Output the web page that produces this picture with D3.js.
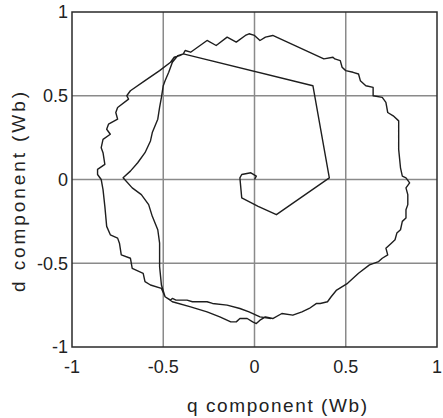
<!DOCTYPE html>
<html>
<head>
<meta charset="utf-8">
<script src="https://cdn.jsdelivr.net/npm/d3@7"></script>
<style>
  html, body { margin: 0; padding: 0; background: #fff; }
  svg { display: block; }
  text { font-family: "Liberation Sans", Arial, Helvetica, sans-serif; fill: #222; }
</style>
</head>
<body>
<svg id="chart" width="443" height="418"></svg>
<script>
// ---- data ----
const xTicks = [-1, -0.5, 0, 0.5, 1];
const yTicks = [-1, -0.5, 0, 0.5, 1];
const xTickLabels = ["-1", "-0.5", "0", "0.5", "1"];
const yTickLabels = ["-1", "-0.5", "0", "0.5", "1"];
const gridValues = [-0.5, 0, 0.5];
const xLabel = "q component (Wb)";
const yLabel = "d component (Wb)";

// start-up trace from the origin
const startQ = [0.00, 0.01, -0.02, -0.07, -0.08, -0.07, 0.02, 0.12, 0.41, 0.32, -0.39];
const startD = [0.00, 0.02, 0.04, 0.03, 0.01, -0.11, -0.16, -0.21, 0.01, 0.56, 0.75];
// inner curve with cusp
const innerQ = [-0.42, -0.45, -0.47, -0.49, -0.50, -0.51, -0.52, -0.53, -0.56, -0.57, -0.60, -0.64, -0.68, -0.72, -0.67, -0.62, -0.58, -0.56, -0.53, -0.52, -0.52, -0.51, -0.49];
const innerD = [0.74, 0.70, 0.64, 0.59, 0.56, 0.49, 0.43, 0.36, 0.28, 0.23, 0.16, 0.10, 0.05, 0.01, -0.05, -0.09, -0.15, -0.22, -0.30, -0.38, -0.52, -0.63, -0.70];
// lower bottom branch
const lowerQ = [-0.45, -0.35, -0.26, -0.19, -0.13, -0.10, -0.08, -0.04, -0.01, 0.01, 0.03];
const lowerD = [-0.73, -0.76, -0.79, -0.82, -0.85, -0.85, -0.83, -0.83, -0.85, -0.86, -0.84];
// right side and top of the circle
const rightQ = [0.06, 0.10, 0.15, 0.21, 0.26, 0.30, 0.34, 0.36, 0.40, 0.42, 0.45, 0.51, 0.57, 0.63, 0.68, 0.70, 0.73, 0.72, 0.75, 0.77, 0.78, 0.80, 0.81, 0.83, 0.83, 0.84, 0.84, 0.83, 0.85, 0.83, 0.81, 0.80, 0.79, 0.79, 0.76, 0.73, 0.72, 0.70, 0.65, 0.65, 0.61, 0.58, 0.57, 0.54, 0.50, 0.48, 0.47, 0.44, 0.43, 0.38, 0.10, 0.06, 0.03, 0.00, -0.03, -0.05, -0.10, -0.15, -0.21, -0.26, -0.35, -0.38, -0.39];
const rightD = [-0.82, -0.83, -0.80, -0.81, -0.79, -0.77, -0.74, -0.74, -0.73, -0.70, -0.66, -0.62, -0.56, -0.51, -0.49, -0.47, -0.45, -0.41, -0.38, -0.36, -0.32, -0.30, -0.25, -0.23, -0.18, -0.15, -0.09, -0.05, -0.02, 0.01, 0.02, 0.07, 0.18, 0.35, 0.38, 0.40, 0.46, 0.49, 0.50, 0.55, 0.56, 0.59, 0.63, 0.64, 0.65, 0.67, 0.71, 0.72, 0.73, 0.72, 0.86, 0.85, 0.83, 0.86, 0.87, 0.86, 0.82, 0.85, 0.80, 0.83, 0.76, 0.77, 0.75];
// outer left side of the circle
const outerQ = [-0.41, -0.44, -0.46, -0.52, -0.60, -0.68, -0.70, -0.69, -0.75, -0.76, -0.75, -0.80, -0.81, -0.79, -0.83, -0.84, -0.83, -0.82, -0.86, -0.86, -0.84, -0.83, -0.82, -0.81, -0.79, -0.75, -0.74, -0.73, -0.68, -0.67, -0.61, -0.60, -0.57, -0.51, -0.49];
const outerD = [0.74, 0.73, 0.70, 0.65, 0.59, 0.53, 0.50, 0.48, 0.43, 0.40, 0.36, 0.33, 0.30, 0.27, 0.24, 0.19, 0.16, 0.09, 0.06, 0.03, 0.00, -0.06, -0.16, -0.28, -0.33, -0.35, -0.38, -0.45, -0.47, -0.53, -0.56, -0.61, -0.63, -0.65, -0.70];
// upper bottom branch (end of trace)
const upperQ = [-0.46, -0.45, -0.43, -0.37, -0.34, -0.26, -0.23, -0.15, -0.08, -0.03, 0.03, 0.09];
const upperD = [-0.72, -0.71, -0.72, -0.72, -0.73, -0.73, -0.74, -0.75, -0.77, -0.79, -0.82, -0.83];

// ---- layout ----
const W = 443, H = 418;
const margin = { left: 72, right: 6, top: 12, bottom: 71 };
const svg = d3.select("#chart");
const x = d3.scaleLinear().domain([-1, 1]).range([margin.left, W - margin.right]);
const y = d3.scaleLinear().domain([-1, 1]).range([H - margin.bottom, margin.top]);

// grid
const grid = svg.append("g");
grid.selectAll("line.gx").data(gridValues).join("line")
  .attr("x1", d => x(d)).attr("x2", d => x(d))
  .attr("y1", y(-1)).attr("y2", y(1))
  .attr("stroke", "#8a8a8a").attr("stroke-width", 1.5);
grid.selectAll("line.gy").data(gridValues).join("line")
  .attr("class", "gy")
  .attr("y1", d => y(d)).attr("y2", d => y(d))
  .attr("x1", x(-1)).attr("x2", x(1))
  .attr("stroke", "#8a8a8a").attr("stroke-width", 1.5);

// trajectory
const segs = [[startQ, startD], [innerQ, innerD], [lowerQ, lowerD], [rightQ, rightD], [outerQ, outerD], [upperQ, upperD]];
const pts = [];
segs.forEach(([qs, ds]) => qs.forEach((q, i) => pts.push([q, ds[i]])));
const line = d3.line().x(d => x(d[0])).y(d => y(d[1])).curve(d3.curveLinear);
svg.append("path").datum(pts)
  .attr("d", line)
  .attr("fill", "none")
  .attr("stroke", "#1e1e1e")
  .attr("stroke-width", 1.4)
  .attr("stroke-linejoin", "round");

// box
svg.append("rect")
  .attr("x", x(-1)).attr("y", y(1))
  .attr("width", x(1) - x(-1)).attr("height", y(-1) - y(1))
  .attr("fill", "none").attr("stroke", "#2a2a2a").attr("stroke-width", 1.5);

// tick labels
svg.append("g").selectAll("text").data(xTicks).join("text")
  .attr("x", d => x(d)).attr("y", 373)
  .attr("text-anchor", "middle")
  .style("font-size", "18px")
  .text((d, i) => xTickLabels[i]);
svg.append("g").selectAll("text").data(yTicks).join("text")
  .attr("x", 68).attr("y", d => y(d))
  .attr("dy", "0.35em")
  .attr("text-anchor", "end")
  .style("font-size", "18px")
  .text((d, i) => yTickLabels[i]);

// axis labels
svg.append("text")
  .attr("x", 277).attr("y", 412)
  .attr("text-anchor", "middle")
  .attr("textLength", 180).attr("lengthAdjust", "spacing")
  .style("font-size", "19px")
  .text(xLabel);
svg.append("text")
  .attr("transform", "translate(25,192) rotate(-90)")
  .attr("text-anchor", "middle")
  .attr("textLength", 200).attr("lengthAdjust", "spacing")
  .style("font-size", "19px")
  .text(yLabel);
</script>
</body>
</html>
